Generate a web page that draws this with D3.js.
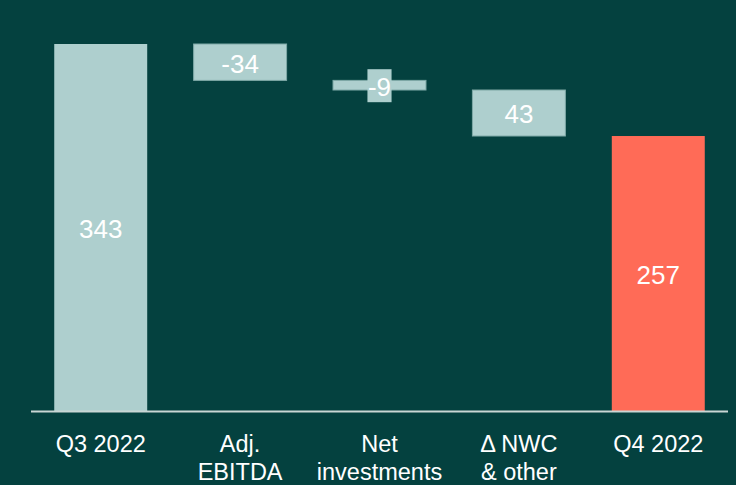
<!DOCTYPE html>
<html lang="en">
<head>
<meta charset="UTF-8">
<script src="https://d3js.org/d3.v7.min.js"></script>
<style>
  html, body { margin: 0; padding: 0; background: #04413f; }
  svg { display: block; font-family: "Liberation Sans", Arial, sans-serif; }
</style>
</head>
<body>
<div id="chart"></div>
<script>
// Data
const categories = ["Q3 2022", "Adj.\nEBITDA", "Net\ninvestments", "Δ NWC\n& other", "Q4 2022"];
const changes = [343, -34, -9, -43, 257];
const kinds = ["total", "step", "step", "step", "total"];
const valueLabels = ["343", "-34", "-9", "43", "257"];

// Dimensions
const width = 736;
const height = 485;

const colors = { bg: "#04413f", bar: "#aecfce", total: "#ff6b57", edge: "#7fa9a7", axis: "#c9d6d4" };

// Build waterfall rows
let running = 0;
const rows = categories.map((c, i) => {
  let start, end;
  if (kinds[i] === "total") { start = 0; end = changes[i]; running = changes[i]; }
  else { start = running; end = running + changes[i]; running = end; }
  return { cat: c, start, end, kind: kinds[i], label: valueLabels[i], last: i === categories.length - 1 };
});

const svg = d3.select("#chart").append("svg")
  .attr("width", width)
  .attr("height", height);

svg.append("rect")
  .attr("width", width)
  .attr("height", height)
  .attr("fill", colors.bg);

// Scales
const x = d3.scaleBand()
  .domain(categories)
  .range([31, 728])
  .paddingInner(0.333)
  .paddingOuter(0.1667);

const y = d3.scaleLinear()
  .domain([0, 343])
  .range([411, 44]);

// Bars
const bars = svg.append("g").selectAll("g")
  .data(rows)
  .join("g");

bars.append("rect")
  .attr("x", d => x(d.cat))
  .attr("width", x.bandwidth())
  .attr("y", d => y(Math.max(d.start, d.end)))
  .attr("height", d => Math.abs(y(d.start) - y(d.end)))
  .attr("fill", d => d.last ? colors.total : colors.bar)
  .attr("stroke", d => d.kind === "step" ? colors.edge : "none")
  .attr("stroke-width", 1);

// Value labels
bars.each(function (d) {
  const g = d3.select(this);
  const cx = x(d.cat) + x.bandwidth() / 2;
  const cy = (y(d.start) + y(d.end)) / 2;
  const t = g.append("text")
    .attr("x", cx)
    .attr("y", cy + 1)
    .attr("dy", "0.36em")
    .attr("text-anchor", "middle")
    .attr("font-size", 26)
    .attr("fill", "#ffffff")
    .text(d.label);
  const barH = Math.abs(y(d.start) - y(d.end));
  const bb = t.node().getBBox();
  if (bb.height > barH) {
    g.insert("rect", "text")
      .attr("x", bb.x - 0.5)
      .attr("y", cy - 16)
      .attr("width", bb.width + 1)
      .attr("height", 33)
      .attr("fill", colors.bar);
  }
});

// Baseline
svg.append("line")
  .attr("x1", x.range()[0])
  .attr("x2", x.range()[1])
  .attr("y1", y(0) + 0.5)
  .attr("y2", y(0) + 0.5)
  .attr("stroke", colors.axis)
  .attr("stroke-width", 2);

// Category labels
const xAxis = svg.append("g").selectAll("text")
  .data(categories)
  .join("text")
  .attr("x", d => x(d) + x.bandwidth() / 2)
  .attr("y", 452)
  .attr("text-anchor", "middle")
  .attr("font-size", 23.5)
  .attr("fill", "#ffffff");

xAxis.each(function (d) {
  const lines = d.split("\n");
  const cx = x(d) + x.bandwidth() / 2;
  d3.select(this).selectAll("tspan")
    .data(lines)
    .join("tspan")
    .attr("x", cx)
    .attr("dy", (l, i) => i === 0 ? 0 : 28)
    .text(l => l);
});
</script>
</body>
</html>
